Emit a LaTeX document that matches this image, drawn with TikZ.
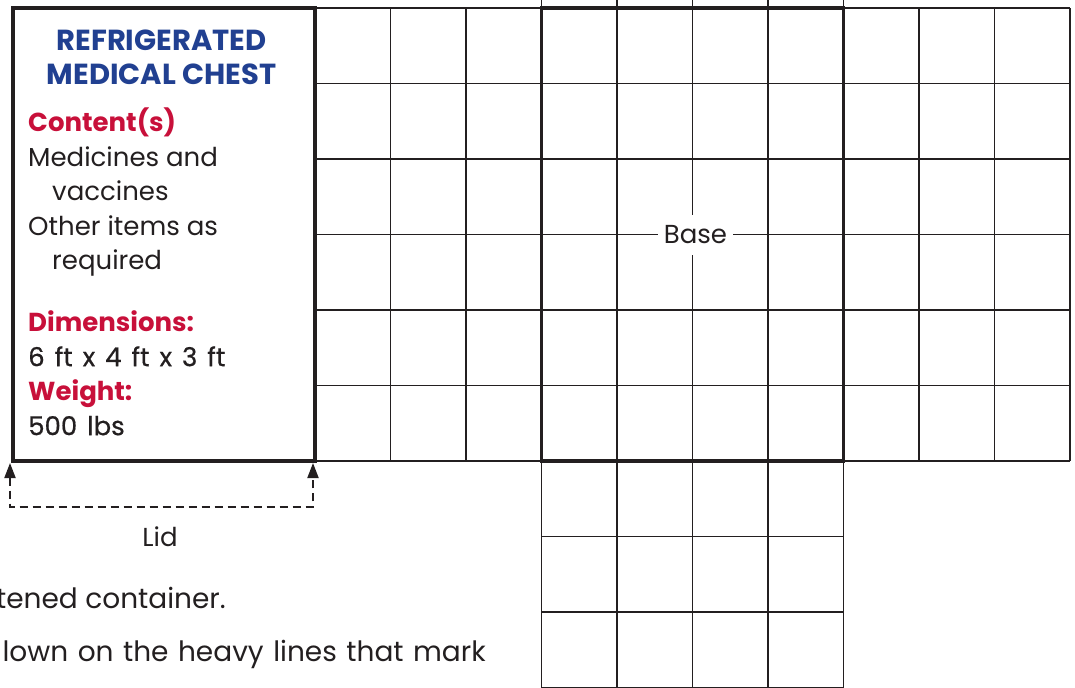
\documentclass[tikz,border=0pt]{standalone}
\usepackage{fontspec}
\setmainfont{Poppins}
\newfontfamily\medfont{Poppins}[FakeBold=0.6]
\usetikzlibrary{arrows.meta}
\definecolor{ink}{RGB}{35,31,32}
\definecolor{chestblue}{RGB}{33,64,145}
\definecolor{chestred}{RGB}{200,16,58}

\begin{document}
\begin{tikzpicture}[x=75.5pt,y=75.5pt,
  gridline/.style={line width=1.3pt,draw=ink},
  heavy/.style={line width=3.2pt,draw=ink},
  lidbox/.style={heavy,fill=white,minimum width=302pt,minimum height=453pt,inner sep=0pt,outer sep=0pt},
  basebox/.style={heavy,minimum width=302pt,minimum height=453pt,inner sep=0pt,outer sep=0pt},
  lidspan/.style={line width=1.9pt,draw=ink,dash pattern=on 8pt off 5pt,{Triangle[width=11pt,length=15pt]}-{Triangle[width=11pt,length=15pt]}},
  every node/.style={text=ink,font=\fontsize{26}{34.5}\selectfont}]
\useasboundingbox (-0.1722,-2.9934) rectangle (14.0662,6.1060);
\clip (-0.1722,-2.9934) rectangle (14.0662,6.1060);
% squared paper
\draw[gridline,step={(1,1)}] (0,0) grid (14,6);
\draw[gridline,step={(1,1)}] (7,-3.5) grid (11,6.5);
\node[basebox] (base) at (9,3) {};
\node[fill=white,inner xsep=6pt,minimum height=40pt] (baselbl) at ([xshift=3pt]base.center) {Base};
% lid with its card
\node[lidbox] (lid) at (2,3) {};
\node[align=center,text=chestblue,font=\fontsize{29}{34}\selectfont\bfseries] (title) at (1.967,5.351) {REFRIGERATED\\MEDICAL CHEST};
\node[anchor=north west,align=left,inner sep=0pt] (card) at (0.199,4.679) {%
  {\bfseries\color{chestred}Content(s)}\\
  Medicines and\\
  \hspace*{24pt}vaccines\\
  Other items as\\
  \hspace*{24pt}required\\[27.5pt]
  {\bfseries\color{chestred}Dimensions:}\\
  {\medfont\spaceskip=10pt 6 ft x 4 ft x 3 ft}\\
  {\bfseries\color{chestred}Weight:}\\
  {\medfont\spaceskip=10pt 500 lbs}};
\coordinate (lidL) at ([xshift=-3pt,yshift=-2pt]lid.south west);
\coordinate (lidR) at ([xshift=-2pt,yshift=-2pt]lid.south east);
\draw[lidspan] (lidL) -- ++(0,-44pt) -| (lidR);
\node (lidlbl) at (1.947,-1.007) {Lid};
% text under the sheet
\node[anchor=east,inner sep=0pt,font=\fontsize{28}{34}\selectfont] (note1) at (2.821,-1.815) {tened container.};
\node[anchor=east,inner sep=0pt,font=\fontsize{28}{34}\selectfont] (note2) at (6.265,-2.556) {\spaceskip=9.5pt lown on the heavy lines that mark};
\end{tikzpicture}
\end{document}
